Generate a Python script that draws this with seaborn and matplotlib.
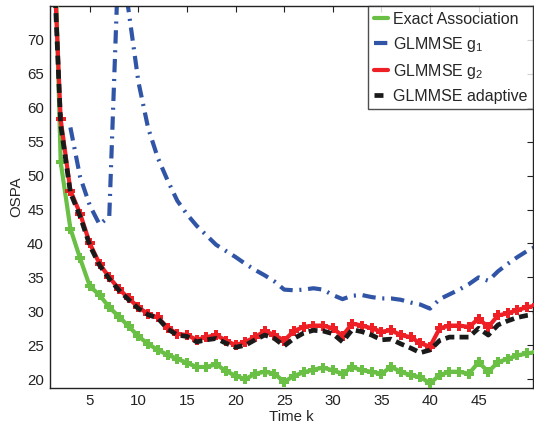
import numpy as np
import pandas as pd
import matplotlib
matplotlib.use("Agg")
import matplotlib.pyplot as plt
import seaborn as sns

k = list(range(1, 52))

exact = [105, 52.0, 42.2, 37.8, 33.7, 32.4, 30.6, 29.2, 27.8, 26.3,
         25.2, 24.3, 23.6, 23.0, 22.4, 21.8, 21.8, 22.2, 21.2, 20.5,
         20.0, 20.8, 21.1, 20.8, 19.6, 20.5, 21.0, 21.4, 21.7, 21.3,
         20.8, 21.8, 21.3, 21.1, 20.8, 21.8, 21.1, 20.6, 20.3, 19.4,
         20.6, 21.1, 21.1, 20.8, 22.5, 21.1, 22.5, 23.0, 23.5, 23.8, 24.0]

g1 = [np.nan, np.nan, 57.1, 49.8, 45.6, 42.8, 44.0, 84.0, 74.2, 63.8,
      57.0, 52.6, 49.3, 46.3, 44.3, 42.6, 41.2, 39.8, 38.9, 38.0,
      37.0, 36.1, 35.3, 34.4, 33.2, 33.1, 33.2, 33.4, 33.2, 32.4,
      31.8, 32.3, 32.4, 32.1, 31.9, 31.9, 31.7, 31.3, 31.0, 30.4,
      31.8, 32.5, 33.2, 34.0, 35.0, 34.5, 35.9, 37.0, 38.0, 38.9, 39.6]

g2 = [92, 58.3, 47.8, 44.4, 40.0, 37.0, 35.0, 33.3, 31.9, 30.6,
      29.6, 29.1, 27.6, 26.7, 26.5, 25.8, 26.2, 26.5, 25.7, 25.0,
      25.5, 26.2, 27.1, 26.5, 25.7, 27.1, 27.7, 27.9, 27.9, 27.5,
      26.4, 28.2, 27.9, 27.5, 27.0, 27.2, 26.5, 26.2, 25.3, 24.8,
      27.5, 27.9, 27.9, 27.7, 28.9, 27.7, 29.4, 29.7, 30.2, 30.6, 30.9]

adaptive = [91, 57.5, 47.5, 44.0, 39.7, 36.8, 34.8, 33.1, 31.7, 30.4,
            29.5, 29.0, 27.4, 26.5, 26.3, 25.5, 25.8, 26.0, 25.3, 24.7,
            25.0, 25.8, 26.5, 26.0, 24.9, 26.0, 26.8, 27.2, 27.1, 26.7,
            25.5, 27.3, 27.0, 26.5, 25.8, 25.9, 25.2, 24.6, 23.9, 24.3,
            25.7, 26.2, 26.2, 26.2, 27.5, 26.5, 28.0, 28.6, 29.1, 29.4, 29.6]

labels = ["Exact Association", "GLMMSE g$_1$", "GLMMSE g$_2$", "GLMMSE adaptive"]
xticks = [5, 10, 15, 20, 25, 30, 35, 40, 45]
yticks = [20, 25, 30, 35, 40, 45, 50, 55, 60, 65, 70]

sns.set_style("white")
plt.rcParams['font.family'] = ['Liberation Sans', 'DejaVu Sans']
plt.rcParams['mathtext.fontset'] = 'custom'
plt.rcParams['mathtext.rm'] = 'Liberation Sans'
plt.rcParams['mathtext.it'] = 'Liberation Sans'
plt.rcParams['mathtext.default'] = 'regular'

fig = plt.figure(figsize=(5.34, 4.32), dpi=100)
ax = fig.add_axes([49.5/534, 44/432, (533-49.5)/534, (388-6)/432])

df = pd.DataFrame({"k": k, "exact": exact, "g1": g1, "g2": g2, "adaptive": adaptive})

sns.lineplot(data=df, x="k", y="g1", ax=ax, color="#3155a6", lw=3.0,
             linestyle=(0, (3.2, 1.6, 0.5, 1.6)), label=labels[1], zorder=2)
sns.lineplot(data=df, x="k", y="exact", ax=ax, color="#6abf45", lw=3.0,
             marker="P", markersize=6.5, markeredgewidth=0, label=labels[0], zorder=3)
sns.lineplot(data=df, x="k", y="g2", ax=ax, color="#ee2026", lw=3.0,
             marker="P", markersize=6.5, markeredgewidth=0, label=labels[2], zorder=4)
sns.lineplot(data=df, x="k", y="adaptive", ax=ax, color="#1a1a1a", lw=3.4,
             linestyle=(0, (1.9, 1.1)), label=labels[3], zorder=5)

ax.set_xlim(0.85, 50.6)
ax.set_ylim(18.7, 75)
ax.set_xticks(xticks)
ax.set_yticks(yticks)
ax.tick_params(direction="in", length=4, width=0.8, labelsize=10.8, top=True, right=True,
               colors="#222222", pad=4)
for s in ax.spines.values():
    s.set_color("#222222")
    s.set_linewidth(1.0)
ax.set_xlabel("Time k", fontsize=10.8, labelpad=2)
ax.set_ylabel("OSPA", fontsize=10.8, labelpad=3)

h, l = ax.get_legend_handles_labels()
order = [1, 0, 2, 3]
leg = ax.legend([h[i] for i in order], [l[i] for i in order], loc="upper right",
                fontsize=11.5, frameon=True, fancybox=False, edgecolor="#222222",
                handlelength=0.9, handletextpad=0.3, borderaxespad=0.0,
                labelspacing=0.5, borderpad=0.35)
leg.get_frame().set_linewidth(1.0)
for lh in leg.get_lines():
    lh.set_marker("")

fig.savefig("out.png", dpi=100)
